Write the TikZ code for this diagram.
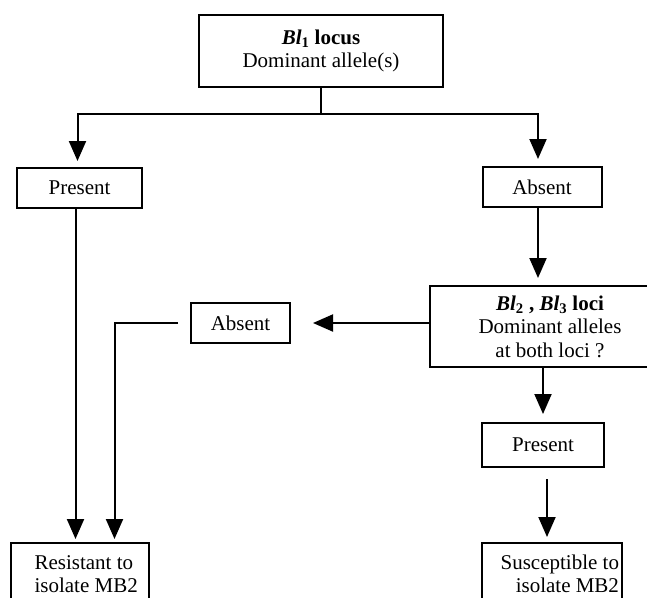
\documentclass[tikz,border=0pt]{standalone}
\usepackage{fontspec}
\setmainfont{Liberation Serif}
\usetikzlibrary{positioning,arrows.meta}

\begin{document}
\begin{tikzpicture}[x=1pt,y=-1pt,line width=2pt,
	every node/.style={font=\fontsize{21}{23.5}\selectfont,inner sep=0pt},
	box/.style={draw,minimum height=40pt,align=center},
	arr/.style={-{Triangle[length=20pt,width=17pt]}}]
	\useasboundingbox (0,0) rectangle (647,597);
	% First locus
	\node[box,minimum width=244pt,minimum height=72pt] (blone) at (321,51) {\textbf{\textit{Bl}\textsubscript{1} locus}\\Dominant allele(s)};
	\node[box,minimum width=125pt] (presone) at (79.5,188) {Present};
	\node[box,minimum width=119pt] (absone) at (542,187) {Absent};
	\coordinate (split) at (321,114);
	\draw (blone.south) -- (split);
	\draw[arr,shorten >=6pt] (split) -| ([xshift=-2pt]presone.north);
	\draw[arr,shorten >=7pt] (split) -| ([xshift=-4pt]absone.north);
	% Second and third loci
	\node[box,minimum width=240pt,minimum height=81pt] (bltwo) at (550,326.5) {\textbf{\textit{Bl}\textsubscript{2} , \textit{Bl}\textsubscript{3} loci}\\Dominant alleles\\at both loci ?};
	\node[box,minimum width=99pt] (abstwo) at (240.5,323) {Absent};
	\node[box,minimum width=122pt,minimum height=44pt] (prestwo) at (543,445) {Present};
	\draw[arr,shorten >=7pt] ([xshift=-4pt]absone.south) -- ([xshift=-4pt]absone.south |- bltwo.north);
	\draw[arr,shorten >=22pt] (bltwo.west |- abstwo.east) -- (abstwo.east);
	\draw[arr,shorten >=8pt] (prestwo.north |- bltwo.south) -- (prestwo.north);
	% Outcomes
	\node[box,minimum width=138pt,minimum height=62pt] (res) at (79.5,574) {};
	\node[anchor=west,align=left] (restext) at ([xshift=24pt]res.west) {Resistant to\\isolate MB2};
	\node[box,minimum width=140pt,minimum height=62pt] (sus) at (552,574) {};
	\node[anchor=east,align=right] (sustext) at ([xshift=-3pt]sus.east) {Susceptible to\\isolate MB2};
	\draw[arr,shorten >=3pt] ([xshift=-4pt]presone.south) -- ([xshift=-4pt]presone.south |- res.north);
	\draw[arr,shorten <=12pt,shorten >=3pt] (abstwo.west) -| ([xshift=35pt]res.north);
	\draw[arr,shorten <=11pt,shorten >=5pt] ([xshift=4pt]prestwo.south) -- ([xshift=4pt]prestwo.south |- sus.north);
\end{tikzpicture}
\end{document}
